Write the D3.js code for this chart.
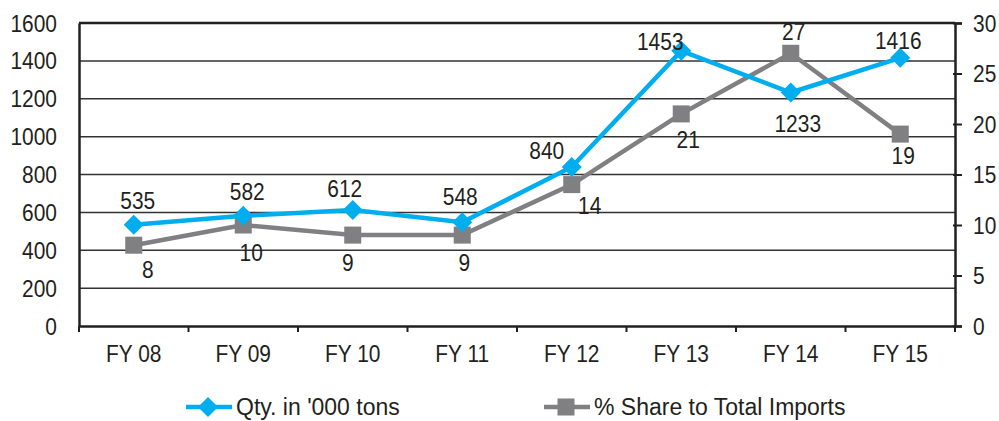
<!DOCTYPE html>
<html>
<head>
<meta charset="utf-8">
<script src="https://cdn.jsdelivr.net/npm/d3@7/dist/d3.min.js"></script>
<style>
  html, body { margin: 0; padding: 0; background: #fff; }
  svg { display: block; font-family: "Liberation Sans", Arial, sans-serif; }
</style>
</head>
<body>
<svg id="chart" width="999" height="421"></svg>
<script>
// Import volumes and share of total imports, by financial year
const categories = ["FY 08", "FY 09", "FY 10", "FY 11", "FY 12", "FY 13", "FY 14", "FY 15"];
const qtyValues = [535, 582, 612, 548, 840, 1453, 1233, 1416];
const shareValues = [8, 10, 9, 9, 14, 21, 27, 19];
const leftTicks = [0, 200, 400, 600, 800, 1000, 1200, 1400, 1600];
const rightTicks = [0, 5, 10, 15, 20, 25, 30];
const seriesNames = ["Qty. in '000 tons", "% Share to Total Imports"];

// label offsets from each marker, [dx, dy] in px
const qtyLabelOffset = [[4, -16], [4, -16], [-8, -13], [-2, -17], [-25, -8], [-21, -1], [7, 39], [-2, -9]];
const shareLabelOffset = [[14, 33], [8, 36], [-5, 36], [2, 36], [18, 29], [7, 34], [3, -13], [3, 30]];

const BLUE = "#00aeef";
const GREY = "#808083";
const INK = "#231f20";
const FONT = 23;
const SX = 0.91; // horizontal condensing of chart text

const svg = d3.select("#chart");
const m = { left: 79, right: 955, top: 23, bottom: 326 };

const x = d3.scaleBand().domain(categories).range([m.left, m.right]).padding(0);
const yL = d3.scaleLinear().domain([0, 1600]).range([m.bottom, m.top]);
const yR = d3.scaleLinear().domain([0, 30]).range([m.bottom, m.top]);
const cx = d => x(d) + x.bandwidth() / 2;

function condense(sel, tx, ty, sx = SX) {
  sel.attr("x", null).attr("y", null).attr("dy", null)
    .attr("transform", `translate(${tx},${ty}) scale(${sx},1)`)
    .attr("font-size", FONT).attr("fill", INK)
    .attr("font-family", "Liberation Sans, Arial, sans-serif");
}

// horizontal gridlines
svg.append("g").selectAll("line").data(leftTicks.filter(t => t > 0)).join("line")
  .attr("x1", m.left).attr("x2", m.right)
  .attr("y1", d => yL(d)).attr("y2", d => yL(d))
  .attr("stroke", t => t === 1600 ? INK : "#333")
  .attr("stroke-width", t => t === 1600 ? 2.5 : 1.5);

// left axis
const gL = svg.append("g").attr("transform", `translate(${m.left},0)`)
  .call(d3.axisLeft(yL).tickValues(leftTicks).tickFormat(d3.format("d")).tickSize(0));
gL.select(".domain").attr("stroke", INK).attr("stroke-width", 2.5);
condense(gL.selectAll(".tick text"), -22, 8);

// right axis
const gR = svg.append("g").attr("transform", `translate(${m.right},0)`)
  .call(d3.axisRight(yR).tickValues(rightTicks).tickSize(7));
gR.select(".domain").attr("stroke", INK).attr("stroke-width", 2.5);
gR.selectAll(".tick line").attr("x1", -2).attr("stroke", INK).attr("stroke-width", 2);
condense(gR.selectAll(".tick text"), 18, 8);

// bottom axis with ticks at category boundaries
const gB = svg.append("g").attr("transform", `translate(0,${m.bottom})`)
  .call(d3.axisBottom(x).tickSize(0));
gB.select(".domain").attr("stroke", INK).attr("stroke-width", 2.5);
condense(gB.selectAll(".tick text"), 0, 36);
gB.append("g").selectAll("line").data(d3.range(categories.length + 1)).join("line")
  .attr("x1", i => m.left + i * x.bandwidth())
  .attr("x2", i => m.left + i * x.bandwidth())
  .attr("y1", 0).attr("y2", 6)
  .attr("stroke", INK).attr("stroke-width", 2);

// series lines
const lineQ = d3.line().x((d, i) => cx(categories[i])).y(d => yL(d));
const lineS = d3.line().x((d, i) => cx(categories[i])).y(d => yR(d));

svg.append("path").datum(shareValues).attr("d", lineS)
  .attr("fill", "none").attr("stroke", GREY).attr("stroke-width", 4.5);
svg.append("path").datum(qtyValues).attr("d", lineQ)
  .attr("fill", "none").attr("stroke", BLUE).attr("stroke-width", 4.5);

const diamond = d3.symbol().type(d3.symbolSquare).size(200);
const square = d3.symbol().type(d3.symbolSquare).size(290);

svg.append("g").selectAll("path").data(shareValues).join("path")
  .attr("d", square)
  .attr("transform", (d, i) => `translate(${cx(categories[i])},${yR(d)})`)
  .attr("fill", GREY);
svg.append("g").selectAll("path").data(qtyValues).join("path")
  .attr("d", diamond)
  .attr("transform", (d, i) => `translate(${cx(categories[i])},${yL(d)}) rotate(45)`)
  .attr("fill", BLUE);

// data labels
svg.append("g").selectAll("text").data(qtyValues).join("text")
  .attr("text-anchor", "middle").text(d => d)
  .each(function (d, i) {
    condense(d3.select(this), cx(categories[i]) + qtyLabelOffset[i][0], yL(d) + qtyLabelOffset[i][1]);
  });
svg.append("g").selectAll("text").data(shareValues).join("text")
  .attr("text-anchor", "middle").text(d => d)
  .each(function (d, i) {
    condense(d3.select(this), cx(categories[i]) + shareLabelOffset[i][0], yR(d) + shareLabelOffset[i][1]);
  });

// legend
const legend = svg.append("g");
const legendItems = [
  { name: seriesNames[0], color: BLUE, sym: diamond, rot: 45, x0: 186 },
  { name: seriesNames[1], color: GREY, sym: square, rot: 0, x0: 544 }
];
const ly = 407;
legendItems.forEach(it => {
  legend.append("line").attr("x1", it.x0).attr("x2", it.x0 + 46)
    .attr("y1", ly).attr("y2", ly).attr("stroke", it.color).attr("stroke-width", 4.5);
  legend.append("path").attr("d", it.sym)
    .attr("transform", `translate(${it.x0 + 22},${ly}) rotate(${it.rot})`)
    .attr("fill", it.color);
  condense(legend.append("text").text(it.name), it.x0 + 50, ly + 8, 1);
});
</script>
</body>
</html>
